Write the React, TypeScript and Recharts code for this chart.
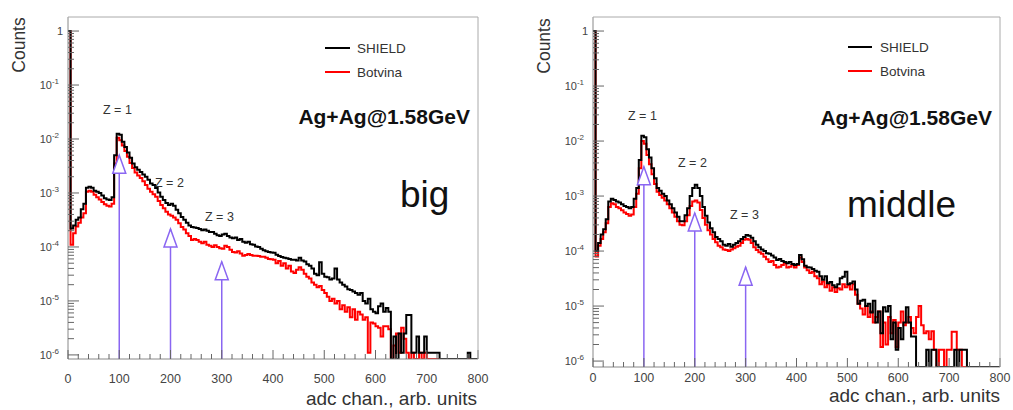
import React from 'react';
import { LineChart, Line, XAxis, YAxis, ReferenceLine, ReferenceDot } from 'recharts';

// histogram bin width (adc channels); bins start at 0
const BIN_WIDTH = 5;

// "big" panel, SHIELD (black)
const SHIELD_BIG = [
  1, 2.2e-4, 2.5e-4, 3.2e-4, 3.5e-4, 5.0e-4, 6.3e-4, 1.25e-3, 1.3e-3, 1.25e-3,
  1.1e-3, 1.05e-3, 1.0e-3, 9e-4, 8e-4, 7.6e-4, 7.4e-4, 8.3e-4, 5e-3, 1.25e-2,
  1.2e-2, 8.9e-3, 7.1e-3, 5.6e-3, 4.5e-3, 3.5e-3, 3.0e-3, 2.7e-3, 2.45e-3, 2.2e-3,
  2.0e-3, 1.75e-3, 1.5e-3, 1.4e-3, 1.23e-3, 1.02e-3, 8.5e-4, 7.4e-4, 6.5e-4, 6.0e-4,
  6.3e-4, 5.8e-4, 4.9e-4, 4.2e-4, 3.6e-4, 3.2e-4, 2.8e-4, 2.5e-4, 2.35e-4, 2.3e-4,
  2.25e-4, 2.15e-4, 2.05e-4, 2.1e-4, 2.0e-4, 1.9e-4, 1.9e-4, 1.75e-4, 1.65e-4, 1.6e-4,
  1.7e-4, 1.75e-4, 1.6e-4, 1.5e-4, 1.45e-4, 1.5e-4, 1.35e-4, 1.4e-4, 1.25e-4, 1.2e-4,
  1.25e-4, 1.12e-4, 1.1e-4, 1.02e-4, 1.0e-4, 9.3e-5, 8.7e-5, 8.3e-5, 8.1e-5, 7.9e-5,
  7.8e-5, 7.2e-5, 6.8e-5, 6.5e-5, 6.3e-5, 6.2e-5, 6.0e-5, 5.8e-5, 5.8e-5, 5.6e-5,
  6.3e-5, 5.6e-5, 5.4e-5, 4.8e-5, 4.5e-5, 4.0e-5, 3.2e-5, 3.0e-5, 5.2e-5, 3.2e-5,
  2.8e-5, 2.75e-5, 2.5e-5, 2.6e-5, 4.0e-5, 2.5e-5, 2.2e-5, 2.0e-5, 1.85e-5, 1.65e-5,
  1.6e-5, 1.5e-5, 1.4e-5, 1.3e-5, 1.4e-5, 1.0e-5, 9e-6, 1.1e-5, 7e-6, 6.3e-6,
  5.9e-6, 8e-6, 9e-6, 6.3e-6, 7.4e-6, 6.3e-6, 0, 2.2e-6, 0, 2.5e-6,
  1.1e-6, 2.5e-6, 5.5e-6, 5.5e-6, 1.1e-6, 1.1e-6, 2.2e-6, 1.1e-6, 1.1e-6, 2.2e-6,
  1.1e-6, 1.1e-6, 1.1e-6, 1.1e-6, 1.1e-6, 0, 0, 0, 0, 0,
  0, 0, 0, 0, 0, 0, 1.1e-6, 0, 0, 0,
];

// "big" panel, Botvina (red)
const BOTVINA_BIG = [
  1, 1.1e-4, 1.8e-4, 2.4e-4, 2.8e-4, 3.5e-4, 4.2e-4, 1.05e-3, 1.1e-3, 1.05e-3,
  9.3e-4, 8.3e-4, 7.6e-4, 6.8e-4, 6.2e-4, 5.8e-4, 5.6e-4, 6.3e-4, 3.5e-3, 1.05e-2,
  9.5e-3, 7.6e-3, 6.0e-3, 4.7e-3, 3.6e-3, 2.9e-3, 2.4e-3, 2.1e-3, 1.9e-3, 1.65e-3,
  1.4e-3, 1.2e-3, 1.05e-3, 9.5e-4, 8.5e-4, 7.1e-4, 6.0e-4, 5.2e-4, 4.5e-4, 4.0e-4,
  3.8e-4, 3.5e-4, 3.2e-4, 2.75e-4, 2.35e-4, 2.1e-4, 1.8e-4, 1.6e-4, 1.35e-4, 1.4e-4,
  1.35e-4, 1.25e-4, 1.17e-4, 1.25e-4, 1.1e-4, 1.05e-4, 1.0e-4, 1.07e-4, 1.0e-4, 9.5e-5,
  9.3e-5, 1.05e-4, 1.0e-4, 8.9e-5, 8.1e-5, 7.9e-5, 8.3e-5, 7.6e-5, 6.9e-5, 7.1e-5,
  7.4e-5, 7.1e-5, 6.9e-5, 6.9e-5, 6.8e-5, 6.6e-5, 6.6e-5, 6.3e-5, 6.0e-5, 5.9e-5,
  5.8e-5, 5.0e-5, 5.5e-5, 4.5e-5, 5.0e-5, 4.0e-5, 4.5e-5, 3.5e-5, 3.3e-5, 3.8e-5,
  4.2e-5, 3.8e-5, 3.2e-5, 2.8e-5, 2.6e-5, 2.2e-5, 2.0e-5, 1.8e-5, 1.9e-5, 1.6e-5,
  1.4e-5, 1.2e-5, 1.0e-5, 1.1e-5, 9e-6, 1.0e-5, 7e-6, 8.3e-6, 6.3e-6, 7.6e-6,
  5e-6, 7e-6, 4.5e-6, 6.3e-6, 5.6e-6, 4.5e-6, 5e-6, 1.1e-6, 4e-6, 3.8e-6,
  3.4e-6, 3.2e-6, 2.2e-6, 3.4e-6, 3.4e-6, 3.0e-6, 0, 1.5e-6, 2.5e-6, 1.1e-6,
  3.2e-6, 2.0e-6, 1.1e-6, 0, 1.1e-6, 0, 0, 1.1e-6, 0, 1.1e-6,
  0, 0, 0, 0, 0, 0, 0, 0, 0, 0,
  0, 0, 0, 0, 0, 0, 0, 0, 0, 0,
];

// "middle" panel, SHIELD (black)
const SHIELD_MID = [
  1, 1.0e-4, 1.4e-4, 2.0e-4, 2.5e-4, 3.8e-4, 8.0e-4, 8.9e-4, 8.5e-4, 8.0e-4,
  7.6e-4, 7.1e-4, 6.6e-4, 6.3e-4, 6.0e-4, 6.3e-4, 8.9e-4, 1.4e-3, 4.5e-3, 1.25e-2,
  1.17e-2, 7.1e-3, 5.0e-3, 3.2e-3, 2.1e-3, 1.4e-3, 1.25e-3, 1.1e-3, 1.0e-3, 8.3e-4,
  7.1e-4, 6.0e-4, 5.0e-4, 4.2e-4, 3.5e-4, 3.5e-4, 4.5e-4, 6.0e-4, 1.0e-3, 1.4e-3,
  1.6e-3, 1.4e-3, 1.0e-3, 6.3e-4, 4.4e-4, 3.3e-4, 2.6e-4, 2.2e-4, 1.8e-4, 1.65e-4,
  1.5e-4, 1.3e-4, 1.25e-4, 1.35e-4, 1.2e-4, 1.3e-4, 1.4e-4, 1.5e-4, 1.65e-4, 1.8e-4,
  1.95e-4, 1.9e-4, 1.75e-4, 1.5e-4, 1.3e-4, 1.17e-4, 1.07e-4, 1.0e-4, 9.1e-5, 8.9e-5,
  8.3e-5, 7.6e-5, 6.9e-5, 7.2e-5, 6.6e-5, 6.3e-5, 6.0e-5, 6.3e-5, 5.8e-5, 5.6e-5,
  5.8e-5, 8.5e-5, 7.1e-5, 5.4e-5, 5.1e-5, 5.0e-5, 4.7e-5, 4.4e-5, 4.2e-5, 3.5e-5,
  3.0e-5, 3.5e-5, 2.6e-5, 2.75e-5, 2.4e-5, 2.2e-5, 2.5e-5, 3.2e-5, 3.4e-5, 4.2e-5,
  2.5e-5, 2.6e-5, 2.8e-5, 2.0e-5, 1.1e-5, 1.25e-5, 1.3e-5, 1.0e-5, 1.1e-5, 7.6e-6,
  1.25e-5, 5e-6, 8e-6, 3.2e-6, 9.5e-6, 8e-6, 1.0e-5, 2.5e-6, 5e-6, 1.6e-6,
  4e-6, 2.5e-6, 5e-6, 9.5e-6, 5e-6, 2.8e-6, 2.8e-6, 0, 0, 0,
  0, 1.6e-6, 0, 1.6e-6, 1.6e-6, 0, 0, 0, 0, 0,
  0, 0, 1.6e-6, 0, 1.6e-6, 1.6e-6, 1.6e-6, 0, 0, 0,
  0, 0, 0, 0, 0, 0, 0, 0, 0, 0,
];

// "middle" panel, Botvina (red)
const BOTVINA_MID = [
  1, 8e-5, 1.25e-4, 1.65e-4, 2.2e-4, 3.2e-4, 6.3e-4, 7.4e-4, 7.1e-4, 6.3e-4,
  6.0e-4, 5.5e-4, 5.0e-4, 4.7e-4, 4.4e-4, 4.6e-4, 6.3e-4, 1.1e-3, 3.2e-3, 1.0e-2,
  8.9e-3, 5.6e-3, 3.8e-3, 2.5e-3, 1.65e-3, 1.2e-3, 1.05e-3, 9.3e-4, 8.3e-4, 7.1e-4,
  6.0e-4, 5.0e-4, 4.2e-4, 3.5e-4, 3.0e-4, 2.95e-4, 3.5e-4, 4.5e-4, 6.6e-4, 8.0e-4,
  8.3e-4, 7.6e-4, 5.6e-4, 4.0e-4, 3.0e-4, 2.4e-4, 2.0e-4, 1.65e-4, 1.45e-4, 1.25e-4,
  1.17e-4, 1.07e-4, 1.05e-4, 1.0e-4, 1.07e-4, 1.12e-4, 1.2e-4, 1.25e-4, 1.4e-4, 1.6e-4,
  1.65e-4, 1.6e-4, 1.4e-4, 1.17e-4, 1.05e-4, 9.5e-5, 8.9e-5, 7.9e-5, 7.1e-5, 6.3e-5,
  6.6e-5, 5.6e-5, 5.0e-5, 5.2e-5, 5.6e-5, 6.0e-5, 5.0e-5, 5.2e-5, 5.6e-5, 5.0e-5,
  5.6e-5, 7.6e-5, 6.3e-5, 5.0e-5, 4.5e-5, 4.0e-5, 4.2e-5, 3.5e-5, 3.2e-5, 2.5e-5,
  2.8e-5, 2.2e-5, 2.5e-5, 1.9e-5, 2.2e-5, 1.8e-5, 2.1e-5, 2.0e-5, 2.5e-5, 2.2e-5,
  2.4e-5, 2.0e-5, 2.5e-5, 1.6e-5, 1.1e-5, 9e-6, 7e-6, 1.0e-5, 6.3e-6, 8e-6,
  5e-6, 6.3e-6, 8e-6, 1.8e-6, 5e-6, 2e-6, 6.3e-6, 3.2e-6, 5.6e-6, 1.8e-6,
  5e-6, 8e-6, 4.5e-6, 5e-6, 6.3e-6, 4e-6, 3.2e-6, 6.3e-6, 1.0e-5, 4.5e-6,
  3.2e-6, 3.5e-6, 2.5e-6, 3.5e-6, 1.6e-6, 0, 1.6e-6, 1.6e-6, 0, 1.6e-6,
  1.6e-6, 3.4e-6, 3.4e-6, 1.6e-6, 1.6e-6, 0, 0, 0, 0, 0,
  0, 0, 0, 0, 0, 0, 0, 0, 0, 0,
];

// arrow tips (x in adc channels, y in counts)
const ARROWS_BIG = [
  { x: 100, tip: 5.0e-3 },
  { x: 200, tip: 2.15e-4 },
  { x: 300, tip: 5.3e-5 },
];
const ARROWS_MID = [
  { x: 100, tip: 3.4e-3 },
  { x: 200, tip: 4.9e-4 },
  { x: 300, tip: 5.1e-5 },
];

const X_MAJOR = [0, 100, 200, 300, 400, 500, 600, 700, 800];
const X_TICKS = Array.from({ length: 41 }, (_, i) => i * 20);
const Y_MAJOR = [1e-6, 1e-5, 1e-4, 1e-3, 1e-2, 1e-1, 1];
const Y_MINOR_MULT = [2, 3, 4, 5, 6, 7, 8, 9];
const Y_TICKS = [
  ...Y_MAJOR,
  ...Y_MAJOR.slice(0, -1).flatMap((d) => Y_MINOR_MULT.map((m) => m * d)),
].sort((a, b) => a - b);

const FONT = '"Liberation Sans", Arial, Helvetica, sans-serif';
const PURPLE = '#8a66f2';
const AXIS_GRAY = '#888';
const TICK_GRAY = '#666';

function buildRows(shield: number[], botvina: number[], yMin: number) {
  const v = (n: number) => (n > 0 ? n : yMin);
  const rows = shield.map((s, i) => ({ x: i * BIN_WIDTH, shield: v(s), botvina: v(botvina[i]) }));
  rows.push({ x: shield.length * BIN_WIDTH, shield: yMin, botvina: yMin });
  return rows;
}

const makeXTick = (labelGap: number) => (props: any) => {
  const { x, y, payload } = props;
  const major = X_MAJOR.includes(payload.value);
  return (
    <g>
      <line x1={x} x2={x} y1={y} y2={y - (major ? 9 : 5)} stroke={TICK_GRAY} strokeWidth={1} />
      {major && (
        <text x={x} y={y + labelGap} textAnchor="middle" fontSize={12.5} fill="#444" fontFamily={FONT}>
          {payload.value}
        </text>
      )}
    </g>
  );
};

const YTick = (props: any) => {
  const { x, y, payload } = props;
  const v = payload.value;
  const major = Y_MAJOR.some((m) => Math.abs(m - v) / m < 1e-6);
  const exp = Math.round(Math.log10(v));
  return (
    <g>
      <line x1={x} x2={x + (major ? 11 : 6)} y1={y} y2={y} stroke={TICK_GRAY} strokeWidth={1} />
      {major && exp === 0 && (
        <text x={x - 5} y={y + 4} textAnchor="end" fontSize={11} fill="#444" fontFamily={FONT}>1</text>
      )}
      {major && exp !== 0 && (
        <text x={x - 9} y={y + 4} textAnchor="end" fontSize={11} fill="#444" fontFamily={FONT}>
          10<tspan dy={-5} fontSize={8}>{`-${Math.abs(exp)}`}</tspan>
        </text>
      )}
    </g>
  );
};

const ArrowHead = (props: any) => {
  const { cx, cy } = props;
  return (
    <polygon
      points={`${cx},${cy} ${cx - 6.5},${cy + 18} ${cx + 6.5},${cy + 18}`}
      fill="#fff"
      stroke={PURPLE}
      strokeWidth={1.5}
    />
  );
};

interface PanelProps {
  left: number;
  width: number;
  yAxisWidth: number;
  rightMargin: number;
  xAxisHeight: number;
  labelGap: number;
  yMin: number;
  yMax: number;
  shield: number[];
  botvina: number[];
  arrows: { x: number; tip: number }[];
}

function Panel({ left, width, yAxisWidth, rightMargin, xAxisHeight, labelGap, yMin, yMax, shield, botvina, arrows }: PanelProps) {
  const rows = buildRows(shield, botvina, yMin);
  const XTick = makeXTick(labelGap);
  return (
    <div style={{ position: 'absolute', left, top: 0 }}>
      <LineChart width={width} height={410} data={rows} margin={{ top: 17, right: rightMargin, bottom: 0, left: 0 }}>
        <XAxis
          dataKey="x"
          type="number"
          domain={[0, 800]}
          ticks={X_TICKS}
          interval={0}
          tickSize={0}
          tickMargin={0}
          tick={<XTick />}
          axisLine={{ stroke: AXIS_GRAY }}
          height={xAxisHeight}
        />
        <YAxis
          type="number"
          scale="log"
          domain={[yMin, yMax]}
          allowDataOverflow
          ticks={Y_TICKS}
          interval={0}
          tickSize={0}
          tickMargin={0}
          tick={<YTick />}
          axisLine={{ stroke: AXIS_GRAY }}
          width={yAxisWidth}
        />
        <Line
          type="stepAfter"
          dataKey="botvina"
          name="Botvina"
          stroke="#ff0000"
          strokeWidth={2}
          dot={false}
          isAnimationActive={false}
          strokeLinejoin="miter"
        />
        <Line
          type="stepAfter"
          dataKey="shield"
          name="SHIELD"
          stroke="#000"
          strokeWidth={2}
          dot={false}
          isAnimationActive={false}
          strokeLinejoin="miter"
        />
        {arrows.map((a) => (
          <ReferenceLine
            key={`l${a.x}`}
            segment={[{ x: a.x, y: yMin }, { x: a.x, y: a.tip }]}
            stroke={PURPLE}
            strokeWidth={1.5}
          />
        ))}
        {arrows.map((a) => (
          <ReferenceDot key={`d${a.x}`} x={a.x} y={a.tip} shape={<ArrowHead />} />
        ))}
      </LineChart>
    </div>
  );
}

function Annotations() {
  const t = { fontFamily: FONT };
  return (
    <svg width={1013} height={410} style={{ position: 'absolute', left: 0, top: 0, pointerEvents: 'none' }}>
      {/* frame top/right borders */}
      <polyline points="68,17 478,17 478,359" fill="none" stroke="#aaa" strokeWidth={1} />
      <polyline points="593,17 1000,17 1000,367" fill="none" stroke="#aaa" strokeWidth={1} />

      {/* axis titles */}
      <text x={25} y={45} transform="rotate(-90 25 45)" textAnchor="middle" fontSize={17.5} fill="#333" {...t}>Counts</text>
      <text x={550} y={46} transform="rotate(-90 550 46)" textAnchor="middle" fontSize={17.5} fill="#333" {...t}>Counts</text>
      <text x={477} y={405} textAnchor="end" fontSize={19} fill="#333" {...t}>adc chan., arb. units</text>
      <text x={1000} y={402} textAnchor="end" fontSize={19} fill="#333" {...t}>adc chan., arb. units</text>

      {/* legends */}
      <line x1={325} x2={350} y1={48} y2={48} stroke="#000" strokeWidth={2} />
      <text x={357} y={53} fontSize={13.5} fill="#333" {...t}>SHIELD</text>
      <line x1={325} x2={350} y1={72} y2={72} stroke="#ff0000" strokeWidth={2} />
      <text x={357} y={77} fontSize={13.5} fill="#333" {...t}>Botvina</text>
      <line x1={848} x2={872} y1={47} y2={47} stroke="#000" strokeWidth={2} />
      <text x={880} y={52} fontSize={13.5} fill="#333" {...t}>SHIELD</text>
      <line x1={848} x2={872} y1={71} y2={71} stroke="#ff0000" strokeWidth={2} />
      <text x={880} y={76} fontSize={13.5} fill="#333" {...t}>Botvina</text>

      {/* system label */}
      <text x={470} y={124} textAnchor="end" fontSize={21} fontWeight="bold" fill="#111" {...t}>Ag+Ag@1.58GeV</text>
      <text x={992} y={125} textAnchor="end" fontSize={21} fontWeight="bold" fill="#111" {...t}>Ag+Ag@1.58GeV</text>

      {/* panel names */}
      <text x={400} y={207} fontSize={37} fill="#111" {...t}>big</text>
      <text x={847} y={217} fontSize={37} fill="#111" {...t}>middle</text>

      {/* charge labels */}
      <text x={103} y={114} fontSize={12.5} fill="#333" {...t}>Z = 1</text>
      <text x={155} y={187} fontSize={12.5} fill="#333" {...t}>Z = 2</text>
      <text x={205} y={221} fontSize={12.5} fill="#333" {...t}>Z = 3</text>
      <text x={628} y={120} fontSize={12.5} fill="#333" {...t}>Z = 1</text>
      <text x={678} y={167} fontSize={12.5} fill="#333" {...t}>Z = 2</text>
      <text x={730} y={219} fontSize={12.5} fill="#333" {...t}>Z = 3</text>
    </svg>
  );
}

export default function App() {
  return (
    <div style={{ position: 'absolute', left: 0, top: 0, width: 1013, height: 410, background: '#fff', overflow: 'hidden' }}>
      <Panel
        left={0}
        width={500}
        yAxisWidth={68}
        rightMargin={22}
        xAxisHeight={51}
        labelGap={24}
        yMin={8.4e-7}
        yMax={1.82}
        shield={SHIELD_BIG}
        botvina={BOTVINA_BIG}
        arrows={ARROWS_BIG}
      />
      <Panel
        left={510}
        width={503}
        yAxisWidth={83}
        rightMargin={13}
        xAxisHeight={43}
        labelGap={15}
        yMin={7.8e-7}
        yMax={1.8}
        shield={SHIELD_MID}
        botvina={BOTVINA_MID}
        arrows={ARROWS_MID}
      />
      <Annotations />
    </div>
  );
}
